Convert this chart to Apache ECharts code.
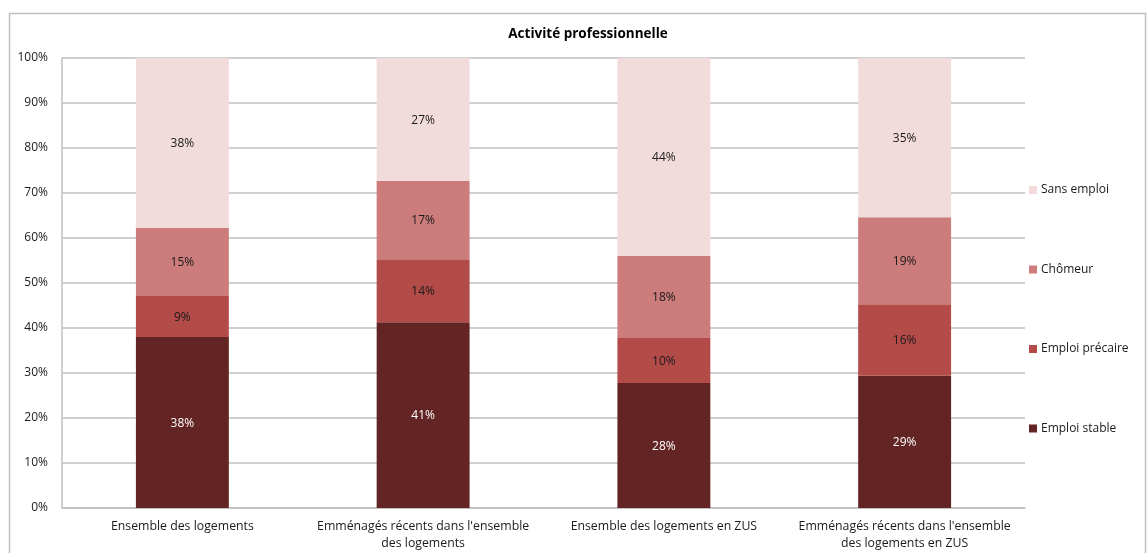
<!DOCTYPE html>
<html>
<head>
<meta charset="utf-8">
<script src="https://cdn.jsdelivr.net/npm/echarts@6/dist/echarts.min.js"></script>
<style>
  html, body { margin: 0; padding: 0; background: #fff; }
  #chart { width: 1147px; height: 553px; }
</style>
</head>
<body>
<div id="chart"></div>
<script>
// Categories (x axis)
const categories = [
  "Ensemble des logements",
  "Emménagés récents dans l'ensemble\ndes logements",
  "Ensemble des logements en ZUS",
  "Emménagés récents dans l'ensemble\ndes logements en ZUS"
];

// Shares in percent, stacked bottom to top
const emploiStable   = [38.0, 41.3, 27.8, 29.4];
const emploiPrecaire = [9.1, 14.0, 10.0, 15.9];
const chomeur        = [15.1, 17.4, 18.2, 19.3];
const sansEmploi     = [37.8, 27.3, 44.0, 35.4];

const seriesNames  = ["Emploi stable", "Emploi précaire", "Chômeur", "Sans emploi"];
const seriesColors = ["#632523", "#b34b48", "#cb7c7b", "#f2dcdb"];
const labelColors  = ["#ffffff", "#1a1a1a", "#1a1a1a", "#1a1a1a"];
const seriesData   = [emploiStable, emploiPrecaire, chomeur, sansEmploi];

const FONT = "'Open Sans', 'Noto Sans', sans-serif";

const chart = echarts.init(document.getElementById('chart'), null, { renderer: 'canvas' });

const series = seriesData.map((d, i) => ({
  name: seriesNames[i],
  type: 'bar',
  stack: 'total',
  data: d,
  barWidth: '38.6%',
  itemStyle: { color: seriesColors[i] },
  emphasis: { disabled: true },
  label: {
    show: true,
    position: 'inside',
    offset: [0, 1],
    formatter: p => Math.round(p.value) + '%',
    color: labelColors[i],
    fontFamily: FONT,
    fontSize: 12
  }
}));

chart.setOption({
  animation: false,
  backgroundColor: '#ffffff',
  title: {
    text: 'Activité professionnelle',
    left: 583,
    textAlign: 'center',
    top: 22,
    textStyle: { fontFamily: FONT, fontSize: 13.5, fontWeight: 'bold', color: '#000' }
  },
  graphic: [{
    type: 'rect',
    shape: { x: 9.5, y: 13.5, width: 1136, height: 560 },
    style: { fill: 'none', stroke: '#bfbfbf', lineWidth: 1.5 },
    silent: true,
    z: -1
  }],
  legend: {
    orient: 'vertical',
    left: 1024,
    top: 177,
    itemWidth: 8,
    itemHeight: 8,
    itemGap: 63.5,
    icon: 'rect',
    data: seriesNames.slice().reverse(),
    textStyle: { fontFamily: FONT, fontSize: 12, color: '#1a1a1a', padding: [0, 0, 0, -1], lineHeight: 16 },
    selectedMode: false
  },
  grid: { left: 62, right: 122, top: 58, bottom: 45 },
  xAxis: {
    type: 'category',
    data: categories,
    axisTick: { show: false },
    axisLine: { show: true, lineStyle: { color: '#bfbfbf', width: 1.5 } },
    axisLabel: {
      fontFamily: FONT, fontSize: 12.3, color: '#1a1a1a',
      interval: 0, margin: 10, lineHeight: 17
    }
  },
  yAxis: {
    type: 'value',
    min: 0,
    max: 100,
    interval: 10,
    axisLine: { show: true, lineStyle: { color: '#bfbfbf', width: 1.5 } },
    axisTick: { show: false },
    splitLine: { lineStyle: { color: '#bfbfbf', width: 1.5 } },
    axisLabel: {
      formatter: '{value}%',
      fontFamily: FONT, fontSize: 12, color: '#1a1a1a', margin: 14
    }
  },
  series: series
});
</script>
</body>
</html>
